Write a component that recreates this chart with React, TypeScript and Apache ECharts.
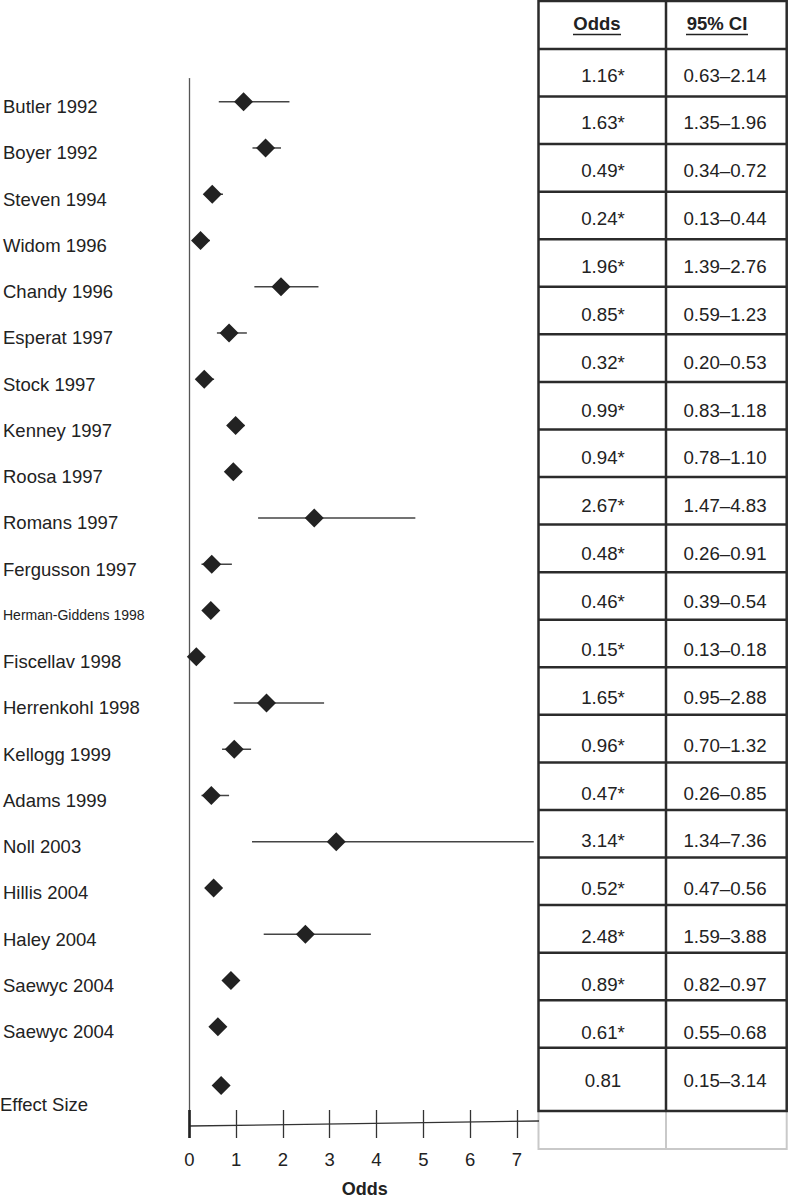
import React, { useEffect, useRef } from "react";
import * as echarts from "echarts";

const studies = [
  "Butler 1992", "Boyer 1992", "Steven 1994", "Widom 1996", "Chandy 1996",
  "Esperat 1997", "Stock 1997", "Kenney 1997", "Roosa 1997", "Romans 1997",
  "Fergusson 1997", "Herman-Giddens 1998", "Fiscellav 1998", "Herrenkohl 1998",
  "Kellogg 1999", "Adams 1999", "Noll 2003", "Hillis 2004", "Haley 2004",
  "Saewyc 2004", "Saewyc 2004",
];
const odds = [1.16, 1.63, 0.49, 0.24, 1.96, 0.85, 0.32, 0.99, 0.94, 2.67, 0.48, 0.46, 0.15, 1.65, 0.96, 0.47, 3.14, 0.52, 2.48, 0.89, 0.61];
const ciLow = [0.63, 1.35, 0.34, 0.13, 1.39, 0.59, 0.20, 0.83, 0.78, 1.47, 0.26, 0.39, 0.13, 0.95, 0.70, 0.26, 1.34, 0.47, 1.59, 0.82, 0.55];
const ciHigh = [2.14, 1.96, 0.72, 0.44, 2.76, 1.23, 0.53, 1.18, 1.10, 4.83, 0.91, 0.54, 0.18, 2.88, 1.32, 0.85, 7.36, 0.56, 3.88, 0.97, 0.68];
const effectLabel = "Effect Size";
const effectOdds = 0.81;
const effectLow = 0.15;
const effectHigh = 3.14;
const effectMarker = 0.68; // where the summary diamond is drawn in the figure
const xTicks = [0, 1, 2, 3, 4, 5, 6, 7];
const headers = ["Odds", "95% CI"];

const FONT = '"Liberation Sans", Arial, Helvetica, sans-serif';
const INK = "#222";

export default function App() {
  const ref = useRef<HTMLDivElement>(null);

  useEffect(() => {
    if (!ref.current) return;
    const chart = echarts.init(ref.current, null, { renderer: "svg" });

    const n = studies.length;
    const effectRow = n + 1.27;
    const rows = studies.map((_, i) => i + 1);

    const ciData = studies.map((_, i) => [ciLow[i], ciHigh[i], rows[i]]);
    const pointData = studies.map((_, i) => [odds[i], rows[i]]);
    const labelData = studies.map((s, i) => ({ value: [0, rows[i]], name: s }));
    labelData.push({ value: [0, effectRow], name: effectLabel });

    // ---- table (graphic) ----
    const tL = 538.5, tM = 666, tR = 786.7;
    const headH = 49, rowH = 47.56, effH = 63.3, blankH = 38;
    const tableBottom = headH + n * rowH + effH;
    const g: any[] = [];
    const dark = { stroke: "#2b2b2b", lineWidth: 2.5 };
    const light = { stroke: "#c9c9c9", lineWidth: 2 };
    g.push({ type: "rect", shape: { x: tL, y: tableBottom, width: tR - tL, height: blankH }, style: { fill: "none", ...light } });
    g.push({ type: "line", shape: { x1: tM, y1: tableBottom, x2: tM, y2: tableBottom + blankH }, style: light });
    g.push({ type: "rect", shape: { x: tL, y: 1, width: tR - tL, height: tableBottom - 1 }, style: { fill: "none", ...dark } });
    g.push({ type: "line", shape: { x1: tM, y1: 0, x2: tM, y2: tableBottom }, style: dark });
    for (let k = 0; k <= n; k++) {
      const y = headH + k * rowH;
      g.push({ type: "line", shape: { x1: tL, y1: y, x2: tR, y2: y }, style: dark });
    }
    const hx = [597, 717];
    const hw = [48, 62];
    headers.forEach((h, j) => {
      g.push({
        type: "text",
        style: { text: h, x: hx[j], y: 23, fill: INK, font: `bold 18.5px ${FONT}`, textAlign: "center", textVerticalAlign: "middle", align: "center", verticalAlign: "middle" },
      });
      g.push({ type: "line", shape: { x1: hx[j] - hw[j] / 2, y1: 34.5, x2: hx[j] + hw[j] / 2, y2: 34.5 }, style: { stroke: INK, lineWidth: 1.6 } });
    });
    const fmt = (v: number) => v.toFixed(2);
    const cells: [string, string, number][] = studies.map((_, i) => [
      fmt(odds[i]) + "*",
      fmt(ciLow[i]) + "\u2013" + fmt(ciHigh[i]),
      75 + i * 47.87,
    ]);
    cells.push([fmt(effectOdds), fmt(effectLow) + "\u2013" + fmt(effectHigh), headH + n * rowH + effH / 2 + 1]);
    cells.forEach(([a, b, y]) => {
      g.push({ type: "text", style: { text: a, x: 603, y, fill: INK, font: `18.7px ${FONT}`, textAlign: "center", textVerticalAlign: "middle", align: "center", verticalAlign: "middle" } });
      g.push({ type: "text", style: { text: b, x: 725, y, fill: INK, font: `18.7px ${FONT}`, textAlign: "center", textVerticalAlign: "middle", align: "center", verticalAlign: "middle" } });
    });
    g.push({ type: "line", shape: { x1: 189.3, y1: 1126, x2: 539, y2: 1121 }, style: { stroke: "#333", lineWidth: 1.3 } });

    const option: any = {
      animation: false,
      backgroundColor: "#fff",
      grid: { left: 189.3, top: 78.6, width: 351, height: 1031.4, containLabel: false, outerBoundsMode: "none" },
      xAxis: [
        {
          type: "value",
          min: 0,
          max: 7.5,
          interval: 1,
          name: "Odds",
          nameLocation: "middle",
          nameGap: 70,
          nameTextStyle: { fontFamily: FONT, fontSize: 18, fontWeight: "bold", color: INK },
          axisLine: { show: false },
          axisTick: { show: true, length: 28, customValues: xTicks, lineStyle: { color: "#333", width: 1.3 } },
          axisLabel: { customValues: xTicks, margin: 40, fontFamily: FONT, fontSize: 18.5, color: INK },
          splitLine: { show: false },
        },
        {
          type: "value",
          min: 0,
          max: 7.5,
          position: "bottom",
          axisLine: { show: false },
          axisTick: { show: true, length: 28, customValues: [0], lineStyle: { color: "#222", width: 2.6 } },
          axisLabel: { show: false },
          splitLine: { show: false },
        },
      ],
      yAxis: {
        type: "value",
        inverse: true,
        min: 0.5,
        max: 22.8,
        axisLine: { show: true, onZero: false, lineStyle: { color: "#555", width: 1.3 } },
        axisTick: { show: false },
        axisLabel: { show: false },
        splitLine: { show: false },
      },
      graphic: g,
      series: [
        {
          type: "custom",
          name: "CI",
          clip: false,
          data: ciData,
          renderItem: (params: any, api: any) => {
            const p1 = api.coord([api.value(0), api.value(2)]);
            const p2 = api.coord([api.value(1), api.value(2)]);
            return {
              type: "line",
              shape: { x1: p1[0], y1: p1[1], x2: p2[0], y2: p2[1] },
              style: { stroke: "#444", lineWidth: 1.5 },
            };
          },
          z: 2,
        },
        {
          type: "scatter",
          name: "Odds",
          data: pointData,
          symbol: "diamond",
          symbolSize: 19,
          itemStyle: { color: INK, opacity: 1 },
          z: 3,
        },
        {
          type: "scatter",
          name: "Effect",
          data: [[effectMarker, effectRow]],
          symbol: "diamond",
          symbolSize: 19,
          itemStyle: { color: INK, opacity: 1 },
          z: 3,
        },
        {
          type: "custom",
          name: "labels",
          clip: false,
          data: labelData,
          renderItem: (params: any, api: any) => {
            const d = labelData[params.dataIndex];
            const p = api.coord([0, api.value(1)]);
            const small = d.name.length > 16;
            const isEffect = d.name === effectLabel;
            return {
              type: "text",
              x: isEffect ? 0 : 3,
              y: p[1] + (isEffect ? 19.5 : 5),
              style: {
                text: d.name,
                fill: INK,
                font: `${small ? 14 : 18.5}px ${FONT}`,
                textAlign: "left",
                textVerticalAlign: "middle",
                align: "left",
                verticalAlign: "middle",
              },
            };
          },
        },
      ],
    };

    chart.setOption(option);
    return () => chart.dispose();
  }, []);

  return (
    <div
      ref={ref}
      style={{ position: "absolute", left: 0, top: 0, width: 788, height: 1200, background: "#fff" }}
    />
  );
}
